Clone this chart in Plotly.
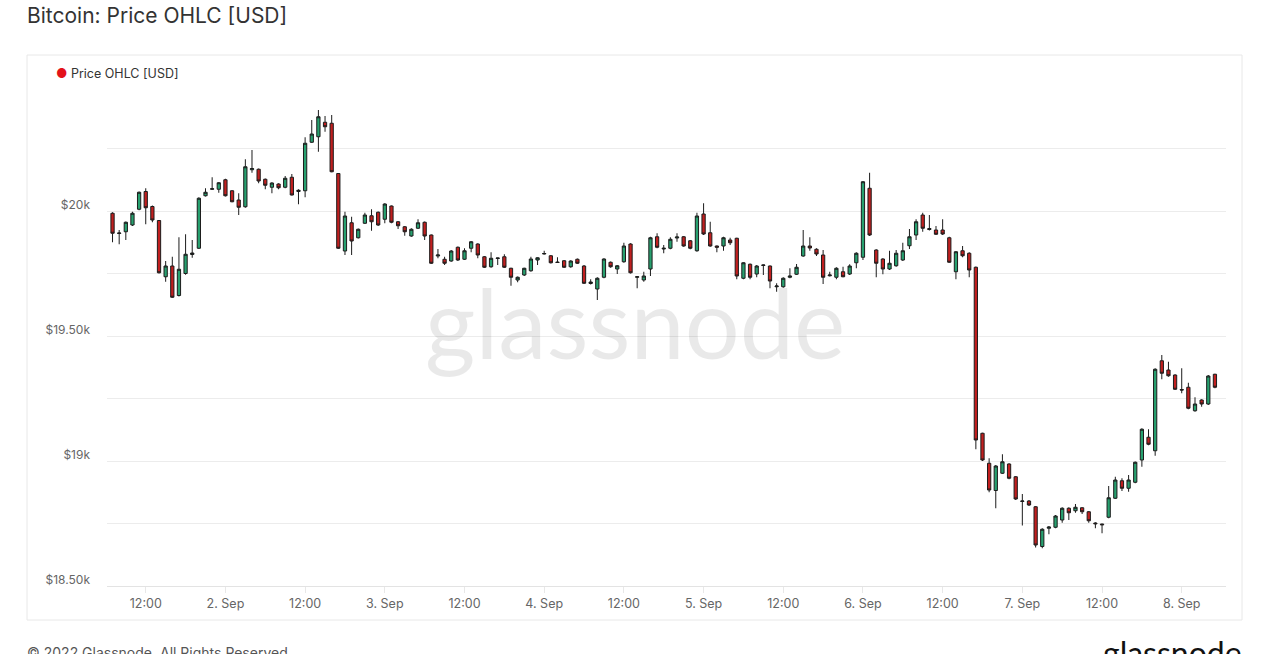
import plotly.graph_objects as go
import pandas as pd

# Hourly candles, Sep 1 2022 07:00 -> Sep 8 2022 05:00 (UTC)
start_time = "2022-09-01 07:00"

open_ = [19991, 19910, 19917, 19944, 20007, 20078, 20018, 19962, 19737, 19780,
         19662, 19750, 19826, 19851, 20061, 20087, 20087, 20125, 20081, 20044,
         20017, 20165, 20167, 20127, 20095, 20108, 20095, 20135, 20078, 20081,
         20275, 20297, 20355, 20351, 20150, 19840, 19953, 19893, 19951, 19981,
         19995, 19967, 20020, 19957, 19937, 19900, 19931, 19955, 19904, 19820,
         19807, 19800, 19855, 19807, 19851, 19868, 19817, 19777, 19810, 19817,
         19771, 19724, 19744, 19761, 19804, 19828, 19821, 19796, 19801, 19777,
         19807, 19780, 19710, 19688, 19735, 19795, 19768, 19797, 19868, 19735,
         19724, 19768, 19897, 19848, 19851, 19892, 19897, 19881, 19841, 19988,
         19913, 19860, 19860, 19884, 19891, 19731, 19787, 19748, 19782, 19780,
         19697, 19697, 19735, 19747, 19820, 19860, 19847, 19824, 19741, 19735,
         19757, 19748, 19793, 19815, 20091, 19844, 19808, 19768, 19781, 19804,
         19861, 19904, 19984, 19930, 19924, 19924, 19893, 19757, 19841, 19831,
         19775, 19111, 18991, 18882, 18951, 18988, 18937, 18838, 18840, 18817,
         18658, 18731, 18735, 18764, 18811, 18801, 18813, 18797, 18752, 18748,
         18775, 18851, 18921, 18891, 18915, 19004, 19095, 19041, 19401, 19364,
         19344, 19286, 19295, 19201, 19244, 19228, 19347]

high = [19995, 19924, 19958, 19997, 20078, 20091, 20022, 19964, 19800, 19817,
        19895, 19907, 19884, 20055, 20091, 20135, 20116, 20129, 20083, 20071,
        20207, 20244, 20170, 20130, 20115, 20111, 20140, 20148, 20087, 20295,
        20364, 20404, 20380, 20384, 20150, 19997, 19977, 19930, 19993, 20007,
        19998, 20031, 20022, 19960, 19940, 19931, 19967, 19958, 19906, 19848,
        19817, 19844, 19858, 19851, 19880, 19871, 19820, 19835, 19813, 19827,
        19773, 19738, 19773, 19817, 19815, 19841, 19824, 19815, 19804, 19803,
        19810, 19784, 19727, 19735, 19811, 19798, 19784, 19873, 19871, 19740,
        19757, 19897, 19911, 19864, 19895, 19911, 19900, 19884, 19993, 20031,
        19957, 19862, 19897, 19893, 19893, 19795, 19790, 19784, 19786, 19782,
        19711, 19735, 19771, 19788, 19924, 19895, 19851, 19844, 19757, 19775,
        19777, 19787, 19835, 20120, 20153, 19847, 19811, 19841, 19844, 19873,
        19928, 19967, 19993, 19984, 19940, 19967, 19897, 19840, 19860, 19835,
        19778, 19113, 19011, 18984, 19027, 18991, 18940, 18868, 18844, 18820,
        18731, 18740, 18784, 18815, 18815, 18828, 18815, 18800, 18755, 18749,
        18900, 18937, 18931, 18944, 18998, 19131, 19127, 19371, 19424, 19397,
        19347, 19371, 19313, 19255, 19247, 19344, 19349]

low = [19875, 19867, 19884, 19940, 20003, 19947, 19955, 19750, 19717, 19652,
       19658, 19745, 19813, 19848, 20058, 20084, 20073, 20058, 20035, 19984,
       20013, 20153, 20111, 20087, 20071, 20087, 20091, 20062, 20027, 20055,
       20272, 20237, 20317, 20155, 19848, 19824, 19824, 19890, 19948, 19921,
       19940, 19951, 19951, 19928, 19901, 19897, 19928, 19884, 19788, 19811,
       19784, 19797, 19800, 19804, 19835, 19811, 19772, 19773, 19784, 19772,
       19701, 19715, 19740, 19757, 19784, 19826, 19790, 19792, 19772, 19773,
       19788, 19708, 19706, 19644, 19731, 19773, 19748, 19793, 19750, 19691,
       19717, 19740, 19851, 19831, 19847, 19877, 19857, 19847, 19837, 19904,
       19857, 19835, 19841, 19864, 19727, 19727, 19727, 19735, 19744, 19691,
       19677, 19693, 19731, 19744, 19817, 19841, 19820, 19708, 19738, 19727,
       19735, 19744, 19771, 19804, 19900, 19735, 19747, 19764, 19777, 19800,
       19848, 19884, 19917, 19922, 19904, 19904, 19793, 19727, 19815, 19735,
       19047, 19000, 18875, 18811, 18948, 18927, 18844, 18742, 18820, 18654,
       18651, 18707, 18731, 18753, 18764, 18793, 18788, 18753, 18731, 18711,
       18771, 18848, 18880, 18877, 18911, 18977, 19063, 19021, 19327, 19337,
       19284, 19271, 19207, 19197, 19217, 19224, 19291]

close = [19911, 19912, 19955, 19991, 20075, 20013, 19964, 19753, 19780, 19655,
         19767, 19827, 19832, 20051, 20075, 20089, 20113, 20061, 20037, 20015,
         20177, 20170, 20120, 20103, 20112, 20093, 20131, 20064, 20083, 20271,
         20308, 20377, 20337, 20157, 19851, 19980, 19880, 19927, 19984, 19957,
         19944, 20028, 19955, 19941, 19917, 19927, 19953, 19900, 19791, 19824,
         19791, 19840, 19804, 19841, 19877, 19824, 19775, 19811, 19812, 19775,
         19735, 19735, 19771, 19808, 19813, 19830, 19793, 19794, 19775, 19800,
         19791, 19711, 19716, 19731, 19808, 19777, 19781, 19860, 19753, 19737,
         19740, 19893, 19855, 19851, 19887, 19896, 19860, 19851, 19980, 19908,
         19860, 19855, 19893, 19873, 19740, 19793, 19735, 19780, 19784, 19720,
         19700, 19731, 19740, 19775, 19860, 19852, 19828, 19735, 19744, 19771,
         19737, 19780, 19831, 20117, 19904, 19791, 19768, 19791, 19831, 19841,
         19897, 19957, 19931, 19926, 19907, 19908, 19795, 19837, 19821, 19764,
         19084, 19004, 18884, 18980, 18997, 18931, 18848, 18840, 18824, 18664,
         18727, 18736, 18780, 18811, 18793, 18815, 18797, 18761, 18749, 18745,
         18853, 18924, 18891, 18924, 18995, 19127, 19067, 19367, 19351, 19341,
         19287, 19284, 19211, 19228, 19228, 19340, 19295]

y_tick_vals = [18500, 18750, 19000, 19250, 19500, 19750, 20000, 20250, 20500]
y_tick_text = ["$18.50k", "", "$19k", "", "$19.50k", "", "$20k", "", ""]

x_tick_vals = ["2022-09-01 12:00", "2022-09-02 00:00", "2022-09-02 12:00",
               "2022-09-03 00:00", "2022-09-03 12:00", "2022-09-04 00:00",
               "2022-09-04 12:00", "2022-09-05 00:00", "2022-09-05 12:00",
               "2022-09-06 00:00", "2022-09-06 12:00", "2022-09-07 00:00",
               "2022-09-07 12:00", "2022-09-08 00:00"]
x_tick_text = ["12:00", "2. Sep", "12:00", "3. Sep", "12:00", "4. Sep",
               "12:00", "5. Sep", "12:00", "6. Sep", "12:00", "7. Sep",
               "12:00", "8. Sep"]

times = pd.date_range(start=start_time, periods=len(open_), freq="h")

GREEN = "#27a06f"
RED = "#c11f1f"
EDGE = "#1c1c1c"

fig = go.Figure()
fig.add_trace(go.Candlestick(
    x=times, open=open_, high=high, low=low, close=close,
    name="Price OHLC [USD]",
    increasing=dict(fillcolor=GREEN, line=dict(color=EDGE, width=1)),
    decreasing=dict(fillcolor=RED, line=dict(color=EDGE, width=1)),
    whiskerwidth=0,
    showlegend=False,
))

# Page body margin is removed via post_script, so page pixels = figure pixels.
FW, FH = 1269, 654
L, R, T, B = 107, 1226, 86, 586
PW, PH = R - L, B - T
def px(x):
    return (x - L) / PW
def py(y):
    return (B - y) / PH

FONT = "Inter, Roboto, sans-serif"

fig.update_layout(
    width=FW, height=FH, autosize=False,
    margin=dict(l=L, r=FW - R, t=T, b=FH - B, pad=0),
    paper_bgcolor="white", plot_bgcolor="white",
    font=dict(family=FONT, size=12, color="#666666"),
    showlegend=False,
    boxgap=0.3,
    xaxis=dict(
        type="date",
        range=["2022-09-01 06:10", "2022-09-08 06:40"],
        rangeslider=dict(visible=False),
        tickvals=x_tick_vals, ticktext=x_tick_text,
        showgrid=False, zeroline=False,
        showline=True, linecolor="#e3e3e3", linewidth=1,
        ticks="outside", ticklen=6, tickcolor="#e8e8e8",
        ticklabelstandoff=0,
        tickfont=dict(family=FONT, size=12.5, color="#666666"),
        fixedrange=True,
    ),
    yaxis=dict(
        range=[18500, 20500],
        tickvals=y_tick_vals, ticktext=y_tick_text,
        showgrid=True, gridcolor="#ececec", gridwidth=1,
        zeroline=False, showline=False, ticks="",
        ticklabelstandoff=16, ticklabelshift=-6,
        tickfont=dict(family=FONT, size=12, color="#666666"),
        fixedrange=True,
    ),
)

# outer frame
fig.add_shape(type="rect", xref="paper", yref="paper",
              x0=px(27), x1=px(1242), y0=py(620), y1=py(55),
              line=dict(color="#e8e8e8", width=1), fillcolor="rgba(0,0,0,0)",
              layer="below")

annotations = [
    dict(text="Bitcoin: Price OHLC [USD]", x=px(25), y=py(15),
         xanchor="left", yanchor="middle",
         font=dict(family=FONT, size=21, color="#333333")),
    dict(text="<span style='color:#e3121a'>●</span> Price OHLC [USD]",
         x=px(54), y=py(74), xanchor="left", yanchor="middle",
         font=dict(family=FONT, size=12.5, color="#333333")),
    dict(text="glassnode", x=px(635), y=py(321), xanchor="center",
         yanchor="middle",
         font=dict(family="Lato", size=97, color="rgba(0,0,0,0.085)")),
    dict(text="© 2022 Glassnode. All Rights Reserved.", x=px(25), y=py(642),
         xanchor="left", yanchor="top",
         font=dict(family=FONT, size=14, color="#555555")),
    dict(text="glassnode", x=px(1244), y=py(631), xanchor="right",
         yanchor="top",
         font=dict(family="Lato", size=32, color="#111111")),
]
for a in annotations:
    a.update(xref="paper", yref="paper", showarrow=False)
    fig.add_annotation(**a)

fig.write_html("out.html",
               config={"displayModeBar": False},
               post_script="document.body.style.margin='0';document.body.style.overflow='hidden';")
